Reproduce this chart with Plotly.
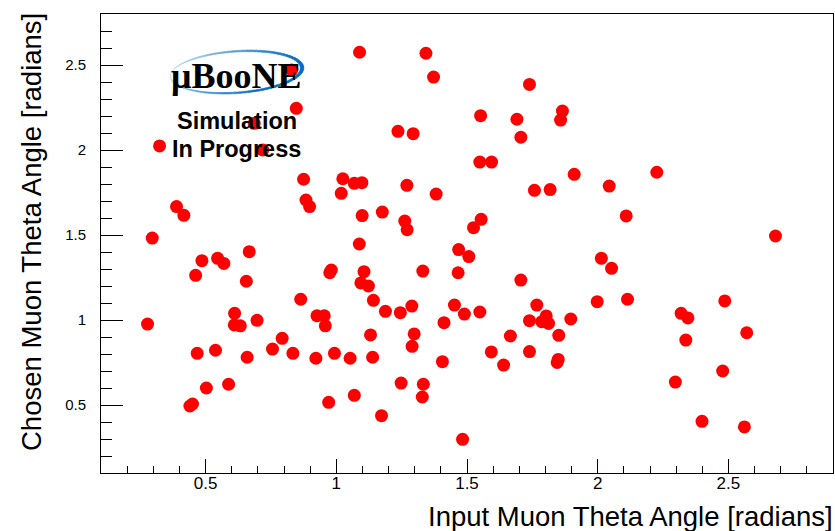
import numpy as np
import plotly.graph_objects as go

# Input (true) muon theta angle vs. reconstructed/chosen muon theta angle, radians
input_theta = [
    1.089, 1.343, 1.372, 1.739, 1.552, 1.691, 1.865, 1.858, 1.706, 1.236,
    1.294, 1.549, 1.594, 1.910, 1.025, 1.069, 1.098, 1.270, 1.019, 1.382,
    1.758, 1.818, 1.099, 1.176, 1.262, 1.271, 1.554, 1.525, 1.088, 1.468,
    1.507, 0.981, 0.975, 1.106, 1.331, 1.466, 1.094, 1.123, 1.706, 1.142,
    1.188, 1.245, 1.289, 1.452, 1.490, 1.549, 1.412, 1.131, 1.298, 1.666,
    1.767, 1.739, 1.803, 1.786, 1.812, 1.897, 1.851, 1.290, 0.993, 1.053,
    1.139, 1.406, 1.593, 1.640, 1.739, 1.849, 1.845, 1.248, 1.333, 1.329,
    1.069, 0.971, 1.173, 1.483, 0.278, 0.611, 0.610, 0.633, 0.697, 0.864,
    0.926, 0.954, 0.958, 0.468, 0.538, 0.659, 0.756, 0.793, 0.834, 0.922,
    0.503, 0.588, 0.440, 0.450, 0.875, 0.884, 0.898, 0.389, 0.417, 0.296,
    0.667, 0.486, 0.546, 0.570, 0.462, 0.656, 0.324, 0.847, 0.686, 0.719,
    0.830, 2.044, 2.226, 2.109, 2.680, 2.014, 2.053, 1.998, 2.114, 2.319,
    2.345, 2.486, 2.570, 2.337, 2.478, 2.297, 2.399, 2.561,
]
chosen_theta = [
    2.575, 2.569, 2.429, 2.386, 2.202, 2.181, 2.229, 2.176, 2.075, 2.110,
    2.096, 1.929, 1.929, 1.857, 1.831, 1.804, 1.808, 1.792, 1.745, 1.741,
    1.763, 1.767, 1.614, 1.635, 1.582, 1.531, 1.592, 1.543, 1.447, 1.414,
    1.373, 1.294, 1.278, 1.284, 1.288, 1.278, 1.218, 1.200, 1.235, 1.116,
    1.051, 1.043, 1.082, 1.088, 1.035, 1.047, 0.984, 0.912, 0.918, 0.906,
    1.088, 0.996, 1.024, 0.990, 0.980, 1.006, 0.910, 0.845, 0.804, 0.775,
    0.781, 0.755, 0.812, 0.735, 0.814, 0.768, 0.750, 0.629, 0.622, 0.547,
    0.557, 0.516, 0.437, 0.298, 0.976, 1.039, 0.971, 0.966, 0.998, 1.122,
    1.025, 1.025, 0.966, 0.804, 0.822, 0.781, 0.829, 0.892, 0.804, 0.775,
    0.600, 0.622, 0.494, 0.506, 1.828, 1.706, 1.667, 1.667, 1.616, 1.482,
    1.402, 1.349, 1.363, 1.333, 1.263, 1.228, 2.024, 2.245, 2.157, 2.000,
    2.471, 1.788, 1.869, 1.612, 1.494, 1.363, 1.304, 1.108, 1.122, 1.039,
    1.012, 1.112, 0.925, 0.882, 0.700, 0.635, 0.404, 0.371,
]

x_title = "Input Muon Theta Angle [radians]"
y_title = "Chosen Muon Theta Angle [radians]"
x_range = [0.1, 2.9]
y_range = [0.1, 2.8]

W, H = 835, 531
M_L, M_R, M_T, M_B = 101, 2, 14, 58
PW, PH = W - M_L - M_R, H - M_T - M_B


def px_to_paper(px, py):
    """Convert page pixel position to paper coordinates."""
    return (px - M_L) / PW, (H - M_B - py) / PH


fig = go.Figure()
fig.add_trace(go.Scatter(
    x=input_theta, y=chosen_theta, mode="markers",
    marker=dict(size=13, color="#ff0000", line=dict(width=0)),
    hoverinfo="x+y", showlegend=False,
))

axis_common = dict(
    showline=True, linecolor="black", linewidth=1, mirror=True,
    showgrid=False, zeroline=False, ticks="inside", tickcolor="black",
    tickwidth=1, tick0=0, dtick=0.5,
)

fig.update_xaxes(
    range=x_range, ticklen=14,
    minor=dict(dtick=0.1, ticklen=7, ticks="inside", tickcolor="black", tickwidth=1),
    tickfont=dict(family="Liberation Sans, Arial, sans-serif", size=17, color="black"),
    ticklabelstandoff=-5,
    **axis_common,
)
fig.update_yaxes(
    range=y_range, ticklen=22,
    minor=dict(dtick=0.1, ticklen=11, ticks="inside", tickcolor="black", tickwidth=1),
    tickfont=dict(family="Liberation Sans, Arial, sans-serif", size=15, color="black"),
    ticklabelstandoff=11,
    **axis_common,
)

# --- MicroBooNE logo: blue swoosh ellipse drawn as a shaded crescent ---
cx, cy = 237.0, 72.0
tilt = np.deg2rad(4.0)
a_out, b_out = 67.0, 21.5
a_in, b_in, shift_in = 65.0, 20.0, -1.5
light = np.array([205, 235, 250])
dark = np.array([0, 105, 190])


def ellipse_pt(t, a, b, dx):
    ex = dx + a * np.cos(t)
    ey = b * np.sin(t)
    rx = ex * np.cos(tilt) + ey * np.sin(tilt)
    ry = -ex * np.sin(tilt) + ey * np.cos(tilt)
    return cx + rx, cy + ry


n_seg = 90
ts = np.linspace(0, 2 * np.pi, n_seg + 1)
shapes = []
for i in range(n_seg):
    t0, t1 = ts[i], ts[i + 1]
    tm = 0.5 * (t0 + t1)
    f = 0.5 * (1 + np.cos(tm)) + 0.35 * max(0.0, np.sin(tm))
    f = min(1.0, f) ** 0.8
    rgb = (light + (dark - light) * f).astype(int)
    col = "rgb(%d,%d,%d)" % tuple(rgb)
    pts = [ellipse_pt(t0, a_out, b_out, 0), ellipse_pt(t1, a_out, b_out, 0),
           ellipse_pt(t1, a_in, b_in, shift_in), ellipse_pt(t0, a_in, b_in, shift_in)]
    pp = [px_to_paper(*p) for p in pts]
    path = "M %f,%f L %f,%f L %f,%f L %f,%f Z" % tuple(v for p in pp for v in p)
    shapes.append(dict(type="path", xref="paper", yref="paper", path=path,
                       fillcolor=col, line=dict(color=col, width=0.6), layer="above"))

annotations = []
lx, ly = px_to_paper(236, 76)
annotations.append(dict(
    text="<b>μBooNE</b>", x=lx, y=ly, xref="paper", yref="paper",
    xanchor="center", yanchor="middle", showarrow=False,
    font=dict(family="Liberation Serif, Times New Roman, serif", size=36, color="black"),
))
sx, sy = px_to_paper(236.7, 121)
annotations.append(dict(
    text="<b>Simulation</b>", x=sx, y=sy, xref="paper", yref="paper",
    xanchor="center", yanchor="middle", showarrow=False,
    font=dict(family="Liberation Sans, Arial, sans-serif", size=23.5, color="black"),
))
ix, iy = px_to_paper(236.7, 149)
annotations.append(dict(
    text="<b>In Progress</b>", x=ix, y=iy, xref="paper", yref="paper",
    xanchor="center", yanchor="middle", showarrow=False,
    font=dict(family="Liberation Sans, Arial, sans-serif", size=23.5, color="black"),
))

# Axis titles placed ROOT-style: x title right-aligned, y title top-aligned
tx, ty = px_to_paper(835, 516)
annotations.append(dict(
    text=x_title, x=tx, y=ty, xref="paper", yref="paper",
    xanchor="right", yanchor="middle", showarrow=False,
    font=dict(family="Liberation Sans, Arial, sans-serif", size=27.5, color="black"),
))
vx, vy = px_to_paper(31, 11)
annotations.append(dict(
    text=y_title, x=vx, y=vy, xref="paper", yref="paper", textangle=-90,
    xanchor="center", yanchor="top", showarrow=False,
    font=dict(family="Liberation Sans, Arial, sans-serif", size=27.5, color="black"),
))

fig.update_layout(
    width=W, height=H,
    margin=dict(l=M_L, r=M_R, t=M_T, b=M_B, pad=0),
    paper_bgcolor="white", plot_bgcolor="white",
    shapes=shapes, annotations=annotations,
    showlegend=False,
)

fig.write_html("out.html")
